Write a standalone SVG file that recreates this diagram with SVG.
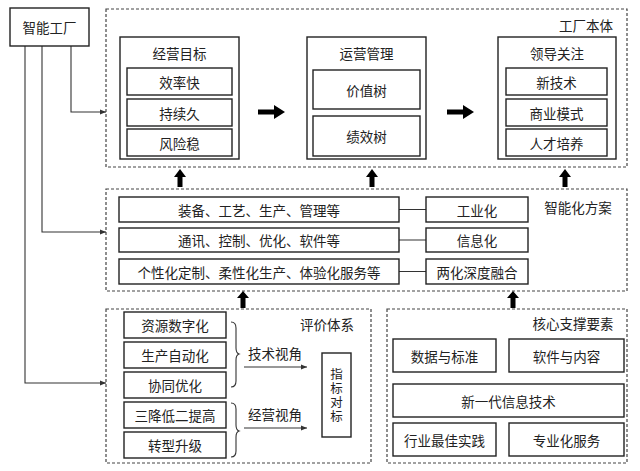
<svg xmlns="http://www.w3.org/2000/svg" width="640" height="471" viewBox="0 0 640 471">
<defs>
<style>
text{font-family:"Noto Sans CJK SC","Noto Sans",sans-serif;font-size:13.5px;fill:#222;text-anchor:middle;dominant-baseline:central}
.v{font-size:12.5px;writing-mode:vertical-rl;letter-spacing:1.5px}
.box{fill:#fff;stroke:#222;stroke-width:1.4}
.dash{fill:none;stroke:#444;stroke-width:1.2;stroke-dasharray:3 2}
.ln{fill:none;stroke:#333;stroke-width:1.1}
.fat{fill:#000}
</style>
<marker id="ah" viewBox="0 0 10 10" refX="10" refY="5" markerWidth="7" markerHeight="6" markerUnits="userSpaceOnUse" orient="auto"><path d="M0,1 L10,5 L0,9 z" fill="#333"/></marker>
</defs>
<rect width="640" height="471" fill="#fff"/>

<g id="containers">
<rect class="dash" x="106" y="9" width="521" height="158"/>
<text x="586" y="25">工厂本体</text>
<rect class="dash" x="106" y="189" width="521" height="102"/>
<text x="578" y="207">智能化方案</text>
<rect class="dash" x="106" y="309" width="265" height="154"/>
<text x="327" y="324">评价体系</text>
<rect class="dash" x="387" y="309" width="240" height="154"/>
<text x="573" y="323">核心支撑要素</text>
</g>

<g id="connectors">
<path class="ln" d="M71,46 V112 H106" marker-end="url(#ah)"/>
<path class="ln" d="M42,46 V232 H106" marker-end="url(#ah)"/>
<path class="ln" d="M25,46 V383 H106" marker-end="url(#ah)"/>
<path class="fat" d="M258,109.5 H274 V105 L285,112 L274,119 V114.5 H258 z"/>
<path class="fat" d="M447,109.5 H463 V105 L474,112 L463,119 V114.5 H447 z"/>
<path class="fat" d="M177.5,187 V177 H174 L180,169 L186,177 H182.5 V187 z"/>
<path class="fat" d="M369.5,187 V177 H366 L372,169 L378,177 H374.5 V187 z"/>
<path class="fat" d="M562.5,187 V177 H559 L565,169 L571,177 H567.5 V187 z"/>
<path class="fat" d="M240.5,308 V298 H237 L243,291 L249,298 H245.5 V308 z"/>
<path class="fat" d="M510.5,308 V298 H507 L513,291 L519,298 H515.5 V308 z"/>
<path class="ln" d="M399,209.5 H426 M399,240 H426 M399,271.5 H426"/>
<path class="ln" d="M231,322 Q236,322 236,328 V348 Q236,353 239,354 Q236,355 236,360 V381 Q236,387 231,387"/>
<path class="ln" d="M231,403 Q236,403 236,409 V425 Q236,430 239,431 Q236,432 236,437 V451 Q236,457 231,457"/>
<path class="ln" d="M244,367 H307" marker-end="url(#ah)"/>
<path class="ln" d="M244,428 H307" marker-end="url(#ah)"/>
</g>

<g id="n-factory"><rect class="box" x="10" y="8" width="79" height="38"/><text x="49.5" y="27">智能工厂</text></g>

<g id="n-goal">
<rect class="box" x="120" y="37" width="119" height="122"/>
<text x="179.5" y="53">经营目标</text>
<rect class="box" x="127" y="68" width="105" height="27"/><text x="179.5" y="81.5">效率快</text>
<rect class="box" x="127" y="99" width="105" height="27"/><text x="179.5" y="112.5">持续久</text>
<rect class="box" x="127" y="129" width="105" height="27"/><text x="179.5" y="142.5">风险稳</text>
</g>

<g id="n-ops">
<rect class="box" x="307" y="37" width="119" height="122"/>
<text x="366.5" y="53">运营管理</text>
<rect class="box" x="313" y="70" width="107" height="39"/><text x="366.5" y="89.5">价值树</text>
<rect class="box" x="313" y="116" width="107" height="40"/><text x="366.5" y="136">绩效树</text>
</g>

<g id="n-lead">
<rect class="box" x="498" y="37" width="118" height="122"/>
<text x="557" y="53">领导关注</text>
<rect class="box" x="506" y="68" width="101" height="27"/><text x="556.5" y="81.5">新技术</text>
<rect class="box" x="506" y="99" width="101" height="27"/><text x="556.5" y="112.5">商业模式</text>
<rect class="box" x="506" y="129" width="101" height="27"/><text x="556.5" y="142.5">人才培养</text>
</g>

<g id="n-row1"><rect class="box" x="119" y="197" width="280" height="25"/><text x="259" y="209.5">装备、工艺、生产、管理等</text></g>
<g id="n-row2"><rect class="box" x="119" y="228" width="280" height="24"/><text x="259" y="240">通讯、控制、优化、软件等</text></g>
<g id="n-row3"><rect class="box" x="119" y="259" width="280" height="25"/><text x="259" y="271.5">个性化定制、柔性化生产、体验化服务等</text></g>
<g id="n-ind"><rect class="box" x="426" y="197" width="102" height="25"/><text x="477" y="209.5">工业化</text></g>
<g id="n-info"><rect class="box" x="426" y="228" width="102" height="24"/><text x="477" y="240">信息化</text></g>
<g id="n-fusion"><rect class="box" x="426" y="259" width="102" height="25"/><text x="477" y="271.5">两化深度融合</text></g>

<g id="n-e1"><rect class="box" x="124" y="312" width="102" height="26"/><text x="175" y="325">资源数字化</text></g>
<g id="n-e2"><rect class="box" x="124" y="342" width="102" height="26"/><text x="175" y="355">生产自动化</text></g>
<g id="n-e3"><rect class="box" x="124" y="372" width="102" height="26"/><text x="175" y="385">协同优化</text></g>
<g id="n-e4"><rect class="box" x="124" y="402" width="102" height="26"/><text x="175" y="415">三降低二提高</text></g>
<g id="n-e5"><rect class="box" x="124" y="432" width="102" height="26"/><text x="175" y="445">转型升级</text></g>
<g id="labels-view"><text x="275" y="353">技术视角</text><text x="275" y="414">经营视角</text></g>
<g id="n-index">
<rect class="box" x="322" y="353" width="29" height="84"/>
<text class="v" x="336.5" y="396">指标对标</text>
</g>

<g id="n-data"><rect class="box" x="393" y="339" width="103" height="33"/><text x="444.5" y="355.5">数据与标准</text></g>
<g id="n-soft"><rect class="box" x="509" y="339" width="115" height="33"/><text x="566.5" y="355.5">软件与内容</text></g>
<g id="n-newit"><rect class="box" x="393" y="384" width="231" height="33"/><text x="508.5" y="400.5">新一代信息技术</text></g>
<g id="n-best"><rect class="box" x="393" y="423" width="103" height="33"/><text x="444.5" y="439.5">行业最佳实践</text></g>
<g id="n-pro"><rect class="box" x="509" y="423" width="115" height="33"/><text x="566.5" y="439.5">专业化服务</text></g>
</svg>
